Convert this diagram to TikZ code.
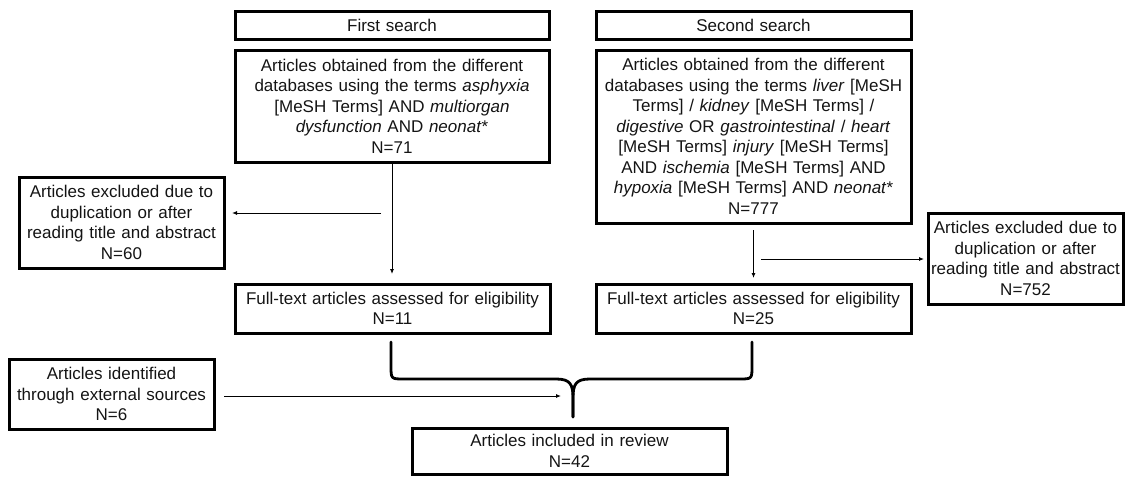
\documentclass[tikz,border=0pt]{standalone}
\usepackage{fontspec}
\setmainfont{Liberation Sans}
\usetikzlibrary{arrows.meta}
\begin{document}
\begin{tikzpicture}[x=1pt,y=-1pt,
  box/.style={draw=black, line width=3pt, rectangle, inner sep=0pt, outer sep=0pt,
    align=center, font=\fontsize{17}{20.5}\selectfont, text=black!92},
  arr/.style={draw=black, line width=0.9pt, -{Latex[length=5pt,width=4pt]}},
  bracestyle/.style={draw=black, line width=2.8pt, line join=round, line cap=round}]
\useasboundingbox (0,0) rectangle (1126,477);

% first search column
\node[box, minimum width=314pt, minimum height=28pt, text width=308pt] (fs1) at (392,25) {First search};
\node[box, minimum width=314pt, minimum height=112pt, text width=308pt] (a1) at (392,106)
  {Articles obtained from the different\\databases using the terms \textit{asphyxia}\\{[}MeSH Terms] AND \textit{multiorgan}\\\textit{dysfunction} AND \textit{neonat}*\\N=71};
\node[box, minimum width=205pt, minimum height=91pt, text width=200pt] (ex1) at (121.5,222.5)
  {Articles excluded due to\\duplication or after\\reading title and abstract\\N=60};
\node[box, minimum width=315pt, minimum height=49pt, text width=309pt] (ft1) at (392.5,308.5)
  {Full-text articles assessed for eligibility\\N=11};

% second search column
\node[box, minimum width=315pt, minimum height=28pt, text width=309pt] (fs2) at (753.5,25) {Second search};
\node[box, minimum width=315pt, minimum height=173pt, text width=309pt] (a2) at (753.5,136.5)
  {Articles obtained from the different\\databases using the terms \textit{liver} [MeSH\\Terms] / \textit{kidney} [MeSH Terms] /\\\textit{digestive} OR \textit{gastrointestinal} / \textit{heart}\\{[}MeSH Terms] \textit{injury} [MeSH Terms]\\AND \textit{ischemia} [MeSH Terms] AND\\\textit{hypoxia} [MeSH Terms] AND \textit{neonat}*\\N=777};
\node[box, minimum width=195pt, minimum height=91pt, text width=192pt] (ex2) at (1025.5,258.5)
  {Articles excluded due to\\duplication or after\\reading title and abstract\\N=752};
\node[box, minimum width=315pt, minimum height=49pt, text width=309pt] (ft2) at (753.5,308.5)
  {Full-text articles assessed for eligibility\\N=25};

% external and included
\node[box, minimum width=205pt, minimum height=70pt, text width=200pt] (ext) at (111.5,394)
  {Articles identified\\through external sources\\N=6};
\node[box, minimum width=315pt, minimum height=46pt, text width=309pt] (inc) at (569.5,451)
  {Articles included in review\\N=42};

% connectors
\coordinate (c1) at (381,213);
\coordinate (c2) at (761,259);
\coordinate (c3) at (224,396);
\coordinate (bl) at (391,342);
\coordinate (br) at (752,342);
\coordinate (bt) at (573,417);
\coordinate (t3) at (561,396);

\draw[arr, shorten >=10pt] (a1.south) -- (a1.south |- ft1.north);
\draw[arr, shorten >=8pt] (c1) -- (ex1.east |- c1);
\draw[arr, shorten <=7pt, shorten >=6pt] (a2.south) -- (a2.south |- ft2.north);
\draw[arr, shorten >=4pt] (c2) -- (ex2.west |- c2);
\draw[arr] (c3) -- (t3);

% brace joining both full-text boxes
\draw[bracestyle] (bl) -- (391,366) .. controls (391,379) .. (404,379) -- (556,379)
  .. controls (570,379) and (573,384) .. (573,398) -- (bt);
\draw[bracestyle] (br) -- (752,366) .. controls (752,379) .. (739,379) -- (590,379)
  .. controls (576,379) and (573,384) .. (573,398) -- (bt);
\end{tikzpicture}
\end{document}
